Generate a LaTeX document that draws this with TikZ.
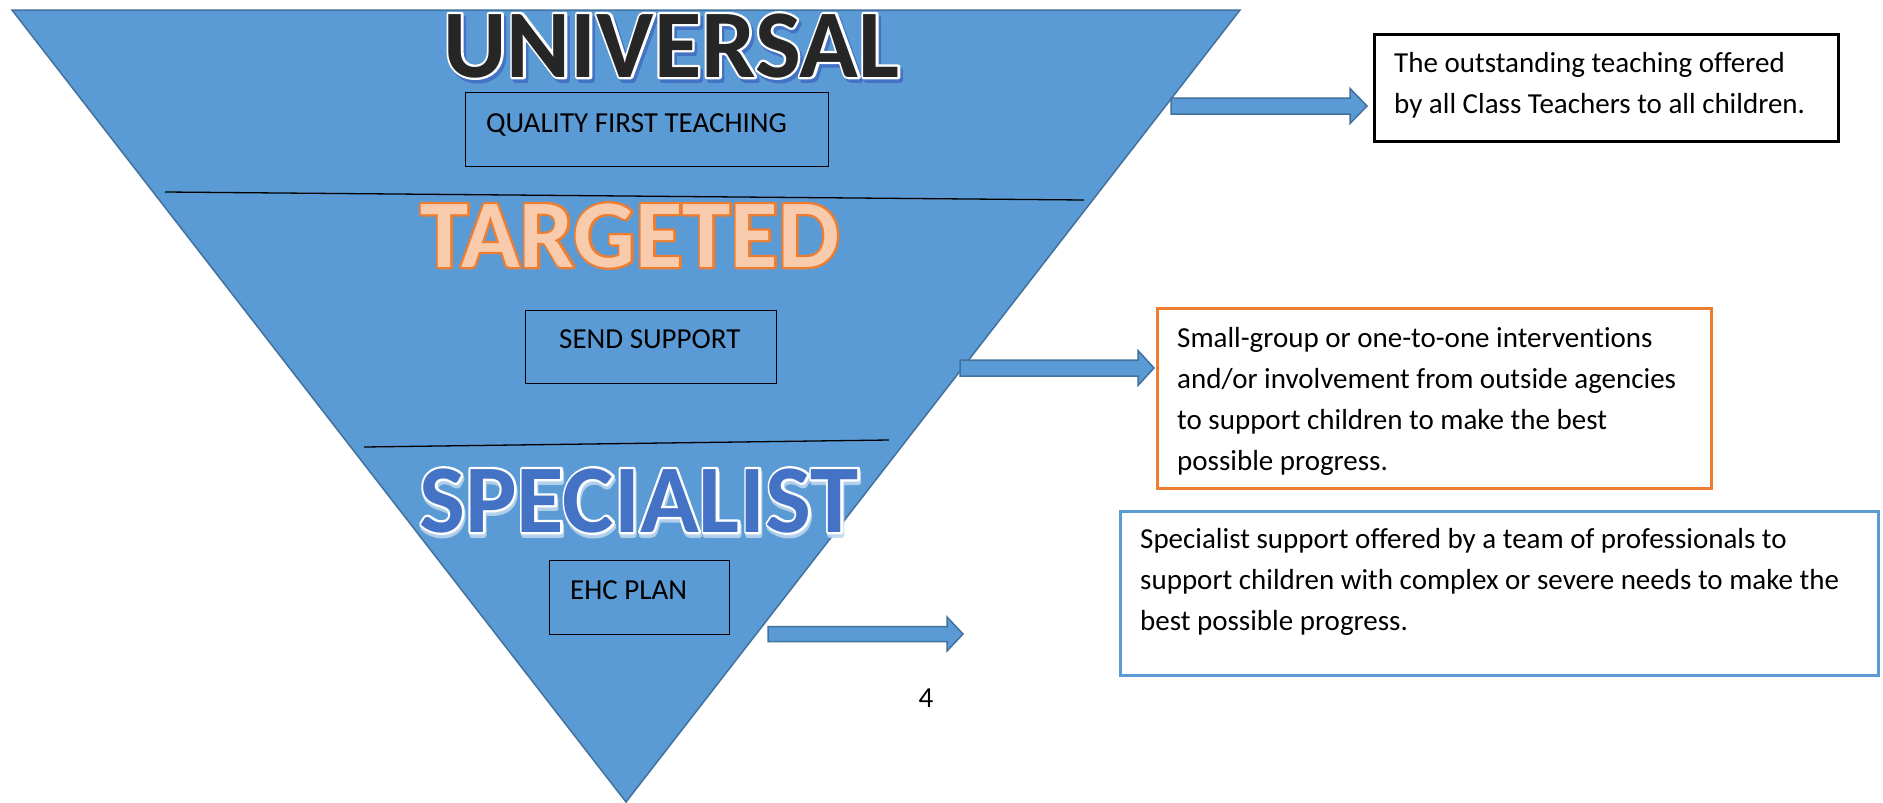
\documentclass[tikz,border=0pt]{standalone}
\usepackage{fontspec}
\setmainfont{Carlito}[Ligatures=NoCommon]
\usetikzlibrary{calc}

\definecolor{pyrfill}{HTML}{5B9BD5}
\definecolor{pyredge}{HTML}{41719C}
\definecolor{darktxt}{HTML}{262626}
\definecolor{peach}{HTML}{F8CBAD}
\definecolor{orangeline}{HTML}{ED7D31}
\definecolor{royal}{HTML}{4472C4}
\definecolor{paleblue}{HTML}{BDD7EE}

% text stroked with a wide rim in the given PDF RGB colour
\newcommand{\rimtext}[3]{%
  \special{pdf:literal direct 2 Tr #2 w 1 j #1 RG}#3\special{pdf:literal direct 0 Tr}}

% heading: optional shadow, rim layer, then the plain fill on top
% #1 name, #2 position, #3 text, #4 fill colour, #5 rim RGB, #6 rim colour name
\newcommand{\tiertitle}[6]{%
  \node[tier,text=#6] at (#2) {\rimtext{#5}{4.6}{#3}};
  \node[tier,text=#4] (#1) at (#2) {#3};
}

% block arrow: start x, head x, tip x, centre y, half shaft, half head
\newcommand{\blockarr}[6]{%
  \draw[blockarrow] (#1,#4-#5) -- (#2,#4-#5) -- (#2,#4-#6) -- (#3,#4)
    -- (#2,#4+#6) -- (#2,#4+#5) -- (#1,#4+#5) -- cycle;
}

\begin{document}
\begin{tikzpicture}[x=1pt,y=-1pt,
  pyramid/.style={fill=pyrfill,draw=pyredge,line width=1.5pt,line join=miter},
  divider/.style={draw=black,line width=1.3pt},
  tierbox/.style={draw=black,line width=1.3pt,inner sep=0pt,anchor=north west},
  blockarrow/.style={fill=pyrfill,draw=pyredge,line width=1.5pt},
  infobox/.style={draw=#1,line width=2.5pt,fill=white,inner sep=0pt,anchor=north west},
  body/.style={inner sep=0pt,anchor=base west,align=left,font=\fontsize{29}{41}\selectfont},
  tier/.style={inner sep=0pt,anchor=base,font=\fontsize{97}{97}\selectfont\bfseries},
]
\useasboundingbox (0,0) rectangle (1883,803);

% inverted pyramid
\draw[pyramid] (12,10) -- (1240,10) -- (626,802) -- cycle;

% tier dividers
\draw[divider] (165,192) -- (1084,200);
\draw[divider] (364,447) -- (889,440);

% tier boxes
\node[tierbox,minimum width=363pt,minimum height=74pt] (qftbox) at (465,92) {};
\node[body] (qft) at (486,132) {QUALITY FIRST TEACHING};
\node[tierbox,minimum width=251pt,minimum height=73pt] (sendbox) at (525,310) {};
\node[body] (send) at (559,348) {SEND SUPPORT};
\node[tierbox,minimum width=180pt,minimum height=74pt] (ehcbox) at (549,560) {};
\node[body] (ehc) at (570,599) {EHC PLAN};

% tier headings
\node[tier,text=royal] at (674,80.5) {\rimtext{0.267 0.447 0.769}{4.6}{UNIVERSAL}};
\tiertitle{universal}{671.5,77}{UNIVERSAL}{darktxt}{1 1 1}{white}
\tiertitle{targeted}{630,267}{TARGETED}{peach}{0.929 0.490 0.192}{orangeline}
\node[tier,text=paleblue,opacity=0.85] at (640,535.5) {\rimtext{0.741 0.843 0.933}{4.6}{SPECIALIST}};
\tiertitle{specialist}{639,532}{SPECIALIST}{royal}{1 1 1}{white}

% arrows out of the pyramid
\blockarr{1171}{1350}{1367}{106}{8}{17.5}
\blockarr{960}{1138}{1154}{368}{8}{17.5}
\blockarr{768}{947}{963}{634}{7.5}{17}

% descriptions (text nodes are placed by the baseline of their last line)
\node[infobox=black,minimum width=464pt,minimum height=107pt] (desc1) at (1373,33) {};
\node[body] (text1) at (1394,113) {The outstanding teaching offered\\by all Class Teachers to all children.};
\node[infobox=orangeline,minimum width=554pt,minimum height=180pt] (desc2) at (1156,307) {};
\node[body] (text2) at (1177,470) {Small-group or one-to-one interventions\\and/or involvement from outside agencies\\to support children to make the best\\possible progress.};
\node[infobox=pyrfill,minimum width=758pt,minimum height=164pt] (desc3) at (1119,510) {};
\node[body] (text3) at (1140,630) {Specialist support offered by a team of professionals to\\support children with complex or severe needs to make the\\best possible progress.};

% page number
\node[body,anchor=base] (pagenum) at (926,707) {4};
\end{tikzpicture}
\end{document}
